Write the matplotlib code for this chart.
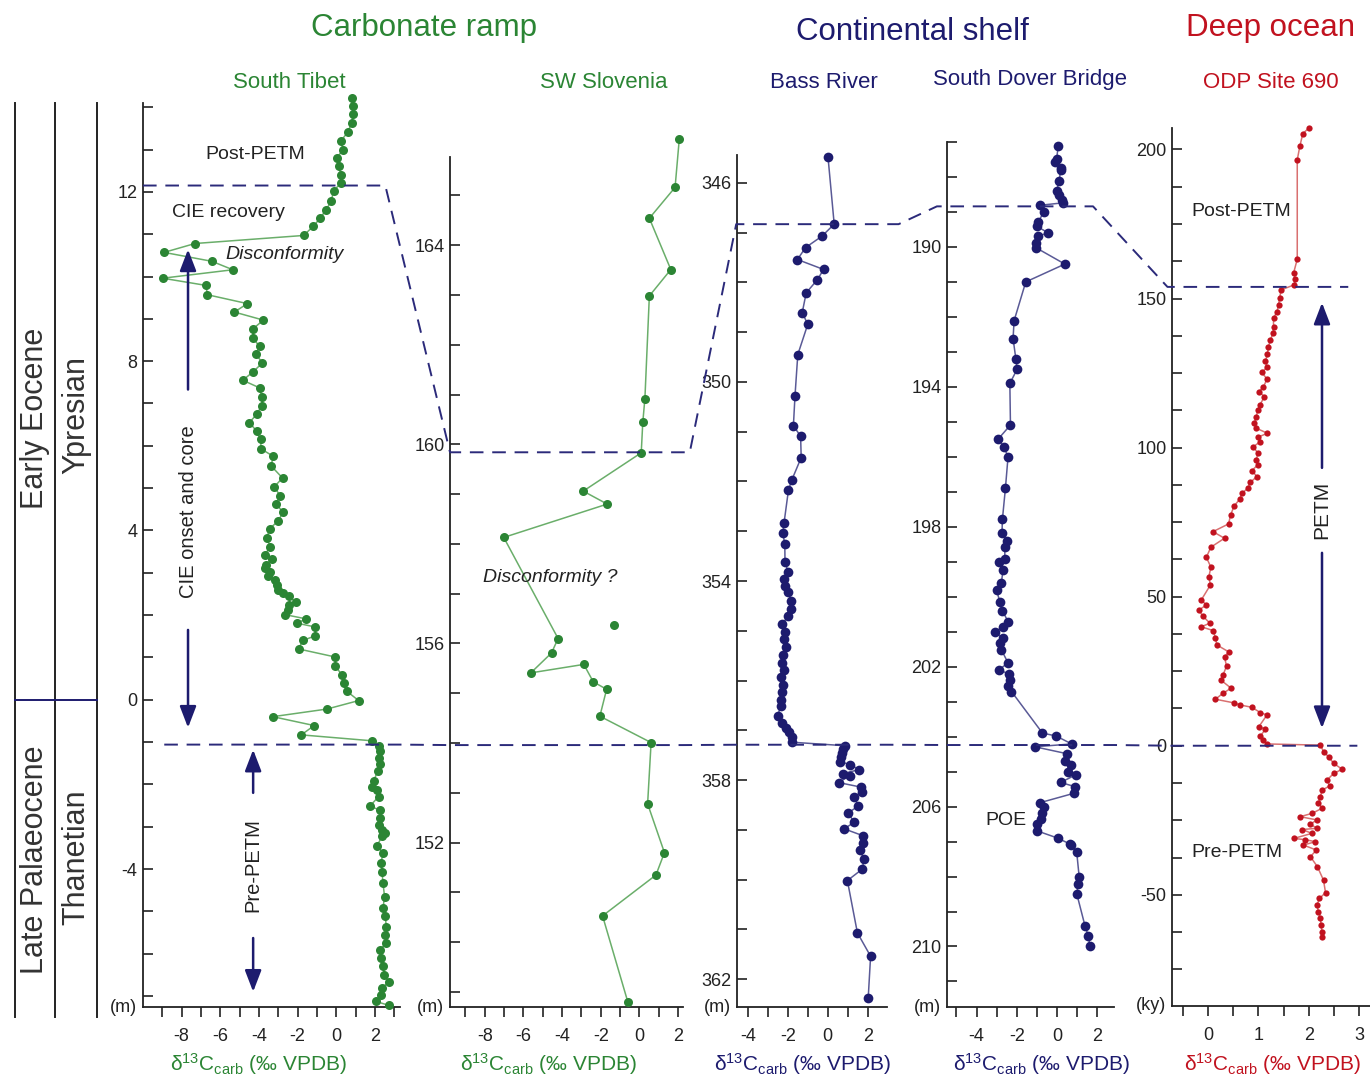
import matplotlib
matplotlib.use("Agg")
import matplotlib.pyplot as plt
from matplotlib.lines import Line2D
from matplotlib.ticker import FixedLocator

plt.rcParams["font.family"] = ["Liberation Sans", "DejaVu Sans"]
plt.rcParams["mathtext.fontset"] = "custom"
plt.rcParams["mathtext.rm"] = "Liberation Sans"
plt.rcParams["mathtext.it"] = "Liberation Sans:italic"
plt.rcParams["axes.unicode_minus"] = False

# ---------------- data ----------------
# South Tibet: height (m) vs d13C
tibet_height = [14.22, 14.03, 13.83, 13.63, 13.41, 13.2, 13.0, 12.8, 12.61, 12.41,
                12.21, 12.02, 11.78, 11.58, 11.38, 11.19, 10.97, 10.78, 10.57, 10.36,
                10.16, 9.96, 9.79, 9.57, 9.36, 9.16, 8.97, 8.76, 8.55, 8.35,
                8.16, 7.96, 7.74, 7.55, 7.37, 7.15, 6.95, 6.75, 6.55,
                6.34, 6.15, 5.93, 5.75, 5.53, 5.24, 5.03, 4.82, 4.63, 4.43,
                4.23, 4.04, 3.82, 3.62, 3.43, 3.33, 3.19, 3.11, 3.01, 2.92,
                2.82, 2.72, 2.6, 2.52, 2.44, 2.3, 2.25, 2.11, 2.01, 1.91,
                1.81, 1.72, 1.51, 1.4, 1.2, 1.01, 0.79, 0.59, 0.39, 0.2,
                -0.02, -0.22, -0.4, -0.61, -0.83, -0.97,
                -1.09, -1.22, -1.38, -1.53, -1.69, -1.93, -2.05, -2.13, -2.29, -2.52,
                -2.6, -2.8, -2.96, -3.07, -3.15, -3.23, -3.45, -3.62, -3.85, -4.06,
                -4.33, -4.65, -4.93, -5.12, -5.36, -5.56, -5.75, -5.91, -6.11, -6.3,
                -6.5, -6.66, -6.82, -6.97, -7.13, -7.22]
tibet_d13c = [0.81, 0.85, 0.85, 0.81, 0.59, 0.24, 0.35, 0.03, 0.12, 0.24,
              0.24, -0.14, -0.26, -0.52, -0.83, -1.18, -1.69, -7.31, -8.91, -6.44,
              -5.35, -8.98, -6.74, -6.67, -4.6, -5.27, -3.77, -4.32, -4.32, -3.97,
              -4.15, -3.82, -4.32, -4.84, -3.97, -3.85, -3.85, -4.11, -4.49,
              -4.11, -3.9, -3.9, -3.25, -3.38, -2.78, -3.21, -2.9, -3.11, -2.76,
              -2.99, -3.45, -3.59, -3.42, -3.68, -3.33, -3.63, -3.68, -3.42, -3.51,
              -3.16, -3.07, -2.99, -2.76, -2.47, -2.07, -2.47, -2.52, -2.64, -1.55,
              -2.04, -1.09, -1.09, -1.73, -1.95, -0.05, -0.05, 0.3, 0.41, 0.55,
              1.16, -0.48, -3.28, -1.14, -1.81, 1.85,
              2.19, 2.25, 2.19, 2.25, 2.14, 1.93, 1.85, 2.11, 2.19, 1.73,
              2.25, 2.28, 2.19, 2.37, 2.54, 2.37, 2.11, 2.42, 2.32, 2.37,
              2.42, 2.5, 2.42, 2.54, 2.59, 2.54, 2.59, 2.25, 2.32, 2.42,
              2.49, 2.71, 2.37, 2.32, 2.07, 2.71]

# SW Slovenia: height (m) vs d13C
slov_height = [166.14, 165.16, 164.54, 163.51, 162.98, 160.92, 160.44, 159.83, 159.06, 158.8,
               158.13, 156.1, 155.81, 155.41, 155.58, 155.23, 155.08, 154.54, 154.01, 152.78,
               151.8, 151.35, 150.53, 148.81]
slov_d13c = [2.06, 1.84, 0.51, 1.62, 0.51, 0.28, 0.17, 0.09, -2.91, -1.67,
             -7.02, -4.21, -4.55, -5.62, -2.88, -2.39, -1.7, -2.05, 0.6, 0.42,
             1.29, 0.85, -1.91, -0.61]
slov_single_height = [156.37]
slov_single_d13c = [-1.31]

# Bass River: depth (m) vs d13C
bass_depth = [345.48, 346.83, 347.07, 347.3, 347.54, 347.74, 347.95, 348.21, 348.61, 348.84,
              349.45, 350.28, 350.88, 351.09, 351.52, 351.98, 352.18, 352.84, 353.04, 353.26,
              353.62, 353.81, 353.96, 354.1, 354.23, 354.41, 354.57, 354.71, 354.86, 355.02,
              355.17, 355.32, 355.48, 355.65, 355.79, 355.93, 356.09, 356.24, 356.39, 356.51,
              356.71, 356.86, 356.96, 357.04, 357.14, 357.24, 357.31, 357.38, 357.46, 357.54,
              357.63, 357.69, 357.79, 357.87, 357.91, 358.05, 358.14, 358.23, 358.34, 358.52,
              358.66, 358.85, 358.98, 359.12, 359.27, 359.41, 359.59, 359.79, 360.02, 361.07,
              361.54, 362.38]
bass_d13c = [0.01, 0.32, -0.29, -1.11, -1.52, -0.21, -0.53, -1.08, -1.28, -1.0,
             -1.5, -1.64, -1.72, -1.36, -1.33, -1.81, -1.97, -2.19, -2.25, -2.15,
             -2.14, -1.99, -2.19, -2.15, -1.99, -1.82, -1.82, -1.99, -2.27, -2.15,
             -2.19, -2.1, -2.22, -2.27, -2.19, -2.32, -2.22, -2.27, -2.35, -2.35,
             -2.51, -2.27, -2.07, -1.94, -1.81, -1.77, 0.87, 0.78, 0.7, 0.67,
             0.62, 1.11, 1.57, 0.75, 1.11, 0.54, 1.64, 1.69, 1.33, 1.52,
             1.03, 1.31, 0.82, 1.77, 1.74, 1.61, 1.81, 1.72, 0.98, 1.48,
             2.14, 2.02]

# South Dover Bridge: depth (m) vs d13C
sdb_depth = [187.11, 187.5, 187.57, 187.73, 187.8, 188.11, 188.4, 188.52, 188.67, 188.74,
             188.81, 189.0, 189.29, 189.41, 189.6, 189.69, 189.89, 190.02, 190.49, 191.0,
             192.11, 192.62, 193.21, 193.5, 193.9, 195.09, 195.5, 195.71, 196.0, 196.9,
             197.79, 198.19, 198.4, 198.59, 198.93, 199.0, 199.24, 199.6, 199.81, 200.14,
             200.4, 200.71, 200.87, 201.0, 201.19, 201.33, 201.52, 201.89, 202.09, 202.21,
             202.38, 202.55, 202.71, 203.9, 203.98, 204.21, 204.29, 204.49, 204.71, 204.81,
             205.0, 205.09, 205.31, 205.43, 205.62, 205.89, 206.0, 206.19, 206.36, 206.49,
             206.69, 206.9, 207.07, 207.1, 207.31, 208.0, 208.21, 208.49, 209.41, 209.69,
             210.0]
sdb_d13c = [0.05, -0.03, -0.11, 0.17, 0.17, 0.1, -0.03, 0.1, 0.22, 0.27,
            -0.86, -0.66, -0.95, -1.0, -0.45, -0.95, -1.06, -1.06, 0.38, -1.56,
            -2.14, -2.19, -2.05, -1.99, -2.35, -2.32, -2.94, -2.65, -2.44, -2.57,
            -2.72, -2.74, -2.49, -2.6, -2.6, -2.89, -2.69, -2.77, -3.01, -2.85,
            -2.72, -2.44, -2.69, -3.1, -2.69, -2.82, -2.77, -2.44, -2.89, -2.39,
            -2.35, -2.44, -2.27, -0.73, -0.06, 0.72, -1.11, 0.5, 0.38, 0.67,
            0.55, 0.93, 0.17, 0.88, 0.83, -0.86, -0.66, -0.73, -0.78, -1.02,
            -1.02, 0.02, 0.63, 0.68, 0.97, 1.09, 1.04, 0.97, 1.38, 1.54,
            1.63]

# ODP Site 690: age (ky) vs d13C
odp_age = [207.2, 205.3, 201.0, 196.5, 163.2, 158.7, 156.5, 154.6, 152.9, 150.1,
           147.9, 145.6, 143.4, 140.6, 138.4, 136.1, 133.9, 131.4, 128.9, 127.0,
           125.2, 123.0, 120.3, 118.8, 117.1, 114.3, 112.7, 110.4, 108.2, 106.5,
           104.8, 103.5, 102.0, 100.3, 98.1, 95.9, 94.2, 92.3, 90.3, 88.3,
           86.4, 84.7, 82.7, 80.4, 77.4, 74.4, 71.8, 69.6, 66.6, 63.2,
           59.9, 56.7, 53.9, 48.9, 47.2, 45.5, 43.5, 41.1, 39.9, 38.6,
           36.0, 33.8, 31.5, 29.7, 26.7, 23.7, 22.0, 19.3, 17.6, 15.6,
           14.4, 13.7, 12.9, 11.1, 10.3, 6.4, 5.5, 3.3, 1.9, 0.6,
           0.2, -2.0, -3.7, -5.9, -7.9, -9.3, -11.5, -13.5, -14.9, -17.1,
           -19.1, -21.0, -22.7, -23.8, -24.9, -26.3, -27.7, -28.1, -29.4, -31.1,
           -31.5, -32.2, -33.3, -35.0, -37.2, -40.6, -45.1, -49.3, -51.2, -53.5,
           -55.7, -57.9, -60.2, -62.4, -64.3]
odp_d13c = [2.0, 1.88, 1.82, 1.77, 1.77, 1.7, 1.73, 1.71, 1.45, 1.42,
            1.4, 1.37, 1.3, 1.3, 1.29, 1.24, 1.2, 1.18, 1.14, 1.17,
            1.07, 1.17, 1.1, 1.01, 1.12, 1.03, 0.99, 0.96, 0.92, 0.96,
            1.18, 0.99, 1.04, 0.9, 0.99, 0.96, 0.99, 0.87, 0.97, 0.84,
            0.79, 0.68, 0.63, 0.52, 0.45, 0.41, 0.1, 0.33, 0.06, -0.03,
            0.06, 0.02, 0.05, -0.13, -0.03, -0.18, -0.1, 0.04, -0.13, 0.11,
            0.15, 0.18, 0.41, 0.33, 0.37, 0.3, 0.26, 0.46, 0.3, 0.15,
            0.51, 0.63, 0.87, 1.04, 1.17, 1.01, 1.14, 1.04, 1.1, 1.17,
            2.23, 2.29, 2.39, 2.49, 2.66, 2.49, 2.36, 2.41, 2.26, 2.23,
            2.19, 2.26, 2.06, 1.83, 2.16, 2.03, 2.16, 1.87, 2.06, 1.7,
            1.93, 2.13, 1.89, 2.15, 2.03, 2.17, 2.29, 2.33, 2.21, 2.16,
            2.19, 2.23, 2.24, 2.26, 2.26]

# correlation levels (post-PETM / CIE onset) in each section's own units
top_level = [12.15, 159.84, 346.83, 188.84, 153.9]
onset_level = [-1.06, 153.96, 357.29, 204.24, 0.0]

# ticks
tibet_xmaj, tibet_xmin = [-8, -6, -4, -2, 0, 2], [-9, -7, -5, -3, -1, 1, 3]
tibet_ymaj, tibet_ymin = [-4, 0, 4, 8, 12], list(range(-7, 15))
slov_xmaj, slov_xmin = [-8, -6, -4, -2, 0, 2], [-9, -7, -5, -3, -1, 1]
slov_ymaj, slov_ymin = [152, 156, 160, 164], list(range(149, 166))
bass_xmaj, bass_xmin = [-4, -2, 0, 2], [-3, -1, 1]
bass_ymaj, bass_ymin = [346, 350, 354, 358, 362], list(range(346, 363))
sdb_xmaj, sdb_xmin = [-4, -2, 0, 2], [-5, -3, -1, 1]
sdb_ymaj, sdb_ymin = [190, 194, 198, 202, 206, 210], list(range(187, 212))
odp_xmaj, odp_xmin = [0, 1, 2, 3], [-0.5, 0.5, 1.5, 2.5]
odp_ymaj, odp_ymin = [-50, 0, 50, 100, 150, 200], [-75 + 12.5 * i for i in range(23)]

# ---------------- style ----------------
GREEN, GREEN_L = "#2b8534", "#6aae6a"
NAVY, NAVY_L = "#1d1b6e", "#5a5a96"
RED, RED_L = "#c1121f", "#d97070"
DASH = "#2b2a7a"
INK = "#222222"

W, H = 1370, 1081
fig = plt.figure(figsize=(W / 100, H / 100), dpi=100)


def panel(box, xlim, ylim, xmaj, xmin, ymaj, ymin, unit):
    l, t, r, b = box
    ax = fig.add_axes([l / W, 1 - b / H, (r - l) / W, (b - t) / H])
    ax.set_xlim(*xlim)
    ax.set_ylim(*ylim)
    ax.patch.set_alpha(0)
    for s in ("top", "right"):
        ax.spines[s].set_visible(False)
    for s in ("left", "bottom"):
        ax.spines[s].set_linewidth(1.3)
        ax.spines[s].set_color(INK)
    ax.xaxis.set_major_locator(FixedLocator(xmaj))
    ax.xaxis.set_minor_locator(FixedLocator(xmin))
    ax.yaxis.set_major_locator(FixedLocator(ymaj))
    ax.yaxis.set_minor_locator(FixedLocator(ymin))
    ax.tick_params(axis="y", which="both", direction="in", length=7, width=1.2,
                   labelsize=13, pad=4, colors=INK)
    ax.tick_params(axis="x", which="both", direction="out", length=7, width=1.2,
                   labelsize=13, pad=8, colors=INK)
    ax.annotate(unit, xy=(0, 0), xycoords="axes fraction", xytext=(-4, 0),
                textcoords="offset points", ha="right", va="center",
                fontsize=13, color=INK)
    return ax


ax1 = panel((143, 103, 400, 1007), (-10, 3.3), (-7.26, 14.1),
            tibet_xmaj, tibet_xmin, tibet_ymaj, tibet_ymin, "(m)")
ax2 = panel((450, 157, 683, 1007), (-9.8, 2.25), (148.7, 165.77),
            slov_xmaj, slov_xmin, slov_ymaj, slov_ymin, "(m)")
ax3 = panel((737, 155, 887, 1007), (-4.54, 2.96), (362.56, 345.44),
            bass_xmaj, bass_xmin, bass_ymaj, bass_ymin, "(m)")
ax4 = panel((947, 142, 1114, 1007), (-5.47, 2.82), (211.73, 187.0),
            sdb_xmaj, sdb_xmin, sdb_ymaj, sdb_ymin, "(m)")
ax5 = panel((1172, 128, 1372, 1006), (-0.71, 3.25), (-87.3, 207.2),
            odp_xmaj, odp_xmin, odp_ymaj, odp_ymin, "(ky)")

ax1.plot(tibet_d13c, tibet_height, "-", color=GREEN_L, lw=1.1, zorder=2, clip_on=False)
ax1.plot(tibet_d13c, tibet_height, "o", color=GREEN, ms=6.5, mew=0, zorder=3, clip_on=False)
ax2.plot(slov_d13c, slov_height, "-", color=GREEN_L, lw=1.1, zorder=2, clip_on=False)
ax2.plot(slov_d13c, slov_height, "o", color=GREEN, ms=6.5, mew=0, zorder=3, clip_on=False)
ax2.plot(slov_single_d13c, slov_single_height, "o", color=GREEN, ms=6.5, mew=0)
ax3.plot(bass_d13c, bass_depth, "-", color=NAVY_L, lw=1.1, zorder=2, clip_on=False)
ax3.plot(bass_d13c, bass_depth, "o", color=NAVY, ms=7, mew=0, zorder=3, clip_on=False)
ax4.plot(sdb_d13c, sdb_depth, "-", color=NAVY_L, lw=1.1, zorder=2, clip_on=False)
ax4.plot(sdb_d13c, sdb_depth, "o", color=NAVY, ms=7, mew=0, zorder=3, clip_on=False)
ax5.plot(odp_d13c, odp_age, "-", color=RED_L, lw=1.1, zorder=2, clip_on=False)
ax5.plot(odp_d13c, odp_age, "o", color=RED, ms=4.5, mew=0, zorder=3, clip_on=False)

# x-axis labels
xlab = "δ$^{13}$C$_{\\rm carb}$ (‰ VPDB)"
for cx, col in [(258, GREEN), (548, GREEN), (802, NAVY), (1041, NAVY), (1272, RED)]:
    fig.text(cx / W, 1 - 1064 / H, xlab, color=col, fontsize=15,
             ha="center", va="center")

# headers
for txt, cx, cy, col, fs in [("Carbonate ramp", 424, 28, GREEN, 22.5),
                             ("Continental shelf", 912, 32, NAVY, 22.5),
                             ("Deep ocean", 1271, 28, RED, 22.5),
                             ("South Tibet", 289, 82, GREEN, 16),
                             ("SW Slovenia", 604, 82, GREEN, 16),
                             ("Bass River", 824, 82, NAVY, 16),
                             ("South Dover Bridge", 1030, 80, NAVY, 16),
                             ("ODP Site 690", 1271, 82, RED, 16)]:
    fig.text(cx / W, 1 - cy / H, txt, color=col, fontsize=fs, ha="center", va="center")

# stratigraphic column on the left
for x in (15, 55, 97):
    fig.add_artist(Line2D([x / W, x / W], [1 - 103 / H, 1 - 1017 / H],
                          color=INK, lw=1.4, transform=fig.transFigure))
inv = fig.transFigure.inverted()
y0 = inv.transform(ax1.transData.transform((0, 0)))[1]
fig.add_artist(Line2D([15 / W, 97 / W], [y0, y0], color=NAVY, lw=1.4,
                      transform=fig.transFigure))
for txt, cx, cy in [("Early Eocene", 35, 418), ("Ypresian", 76, 415),
                    ("Late Palaeocene", 35, 860), ("Thanetian", 76, 857)]:
    fig.text(cx / W, 1 - cy / H, txt, rotation=90, fontsize=22, color="#333333",
             ha="center", va="center")

# dashed correlation lines across the sections
axes = [ax1, ax2, ax3, ax4, ax5]
top_span = [(-10, 2.54), (-9.8, 2.6), (-4.58, 3.54), (-5.97, 1.78), (-0.8, 2.78)]
onset_span = [(-8.9, 3.3), (-9.8, 2.25), (-4.54, 2.96), (-5.47, 2.82), (-0.71, 2.96)]
for levels, spans in [(top_level, top_span), (onset_level, onset_span)]:
    xs, ys = [], []
    for ax, lev, (xa, xb) in zip(axes, levels, spans):
        for xv in (xa, xb):
            fx, fy = inv.transform(ax.transData.transform((xv, lev)))
            xs.append(fx)
            ys.append(fy)
    fig.add_artist(Line2D(xs, ys, color=DASH, lw=1.4, linestyle=(0, (7, 4.5)),
                          transform=fig.transFigure, zorder=5))

# arrows and labels
arrow = dict(arrowstyle="-|>,head_length=1.3,head_width=0.5", color=NAVY, lw=1.8,
             mutation_scale=10, shrinkA=0, shrinkB=0)
ax1.annotate("", xy=(-7.67, 10.64), xytext=(-7.67, 7.33), arrowprops=arrow,
             annotation_clip=False)
ax1.annotate("", xy=(-7.67, -0.66), xytext=(-7.67, 1.65), arrowprops=arrow,
             annotation_clip=False)
ax1.text(-7.67, 4.45, "CIE onset and core", rotation=90, fontsize=14.5,
         ha="center", va="center", color=INK)
ax1.annotate("", xy=(-4.3, -1.18), xytext=(-4.3, -2.2), arrowprops=arrow)
ax1.annotate("", xy=(-4.3, -6.9), xytext=(-4.3, -5.63), arrowprops=arrow)
ax1.text(-4.3, -3.9, "Pre-PETM", rotation=90, fontsize=14.5,
         ha="center", va="center", color=INK)
ax1.text(-4.2, 12.88, "Post-PETM", fontsize=14, ha="center", va="center", color=INK)
ax1.text(-5.6, 11.51, "CIE recovery", fontsize=14, ha="center", va="center", color=INK)
ax1.text(-2.7, 10.52, "Disconformity", fontsize=14, style="italic",
         ha="center", va="center", color=INK)
ax2.text(-4.59, 157.33, "Disconformity ?", fontsize=14, style="italic",
         ha="center", va="center", color=INK)
ax4.text(-2.55, 206.41, "POE", fontsize=14, ha="center", va="center", color=INK)
ax5.text(0.66, 179.1, "Post-PETM", fontsize=14, ha="center", va="center", color=INK)
ax5.text(0.58, -35.7, "Pre-PETM", fontsize=14, ha="center", va="center", color=INK)
ax5.annotate("", xy=(2.26, 148.6), xytext=(2.26, 93.2), arrowprops=arrow)
ax5.annotate("", xy=(2.26, 5.9), xytext=(2.26, 64.7), arrowprops=arrow)
ax5.text(2.26, 79.1, "PETM", rotation=90, fontsize=15, ha="center", va="center", color=INK)

fig.savefig("out.png", dpi=100)
